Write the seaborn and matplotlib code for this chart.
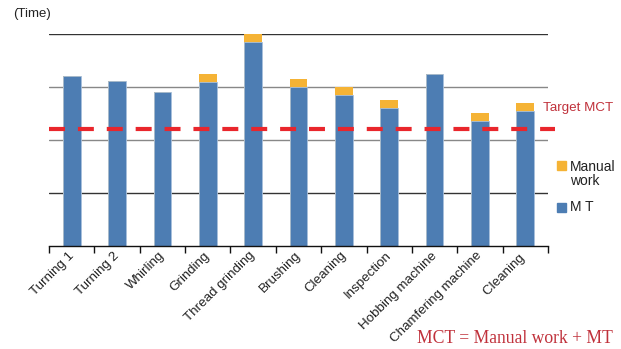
import matplotlib
matplotlib.use("Agg")
import matplotlib.pyplot as plt
import matplotlib.transforms as mtransforms
import seaborn as sns
import pandas as pd
import numpy as np

# Process steps and their times
processes = ["Turning 1", "Turning 2", "Whirling", "Grinding", "Thread grinding",
             "Brushing", "Cleaning", "Inspection", "Hobbing machine",
             "Chamfering machine", "Cleaning "]
machine_time = [3.20, 3.11, 2.90, 3.10, 3.85, 3.00, 2.85, 2.60, 3.25, 2.35, 2.55]
manual_work = [0.0, 0.0, 0.0, 0.15, 0.15, 0.15, 0.15, 0.15, 0.0, 0.15, 0.15]
target_mct = 2.2

sns.set_theme(style="white")
plt.rcParams["font.family"] = ["Liberation Sans Narrow", "Liberation Sans", "DejaVu Sans"]
plt.rcParams["lines.scale_dashes"] = False

BLUE = "#4d7db3"
ORANGE = "#f5b335"
RED_LINE = "#e9262c"
RED_TEXT = "#c0313b"
TEXT = "#222222"

df = pd.DataFrame({
    "process": processes,
    "mt": machine_time,
    "total": np.array(machine_time) + np.array(manual_work),
})

fig = plt.figure(figsize=(6.21, 3.49), dpi=100)
ax = fig.add_axes([49 / 621, 1 - 245.7 / 349, 499 / 621, 211.7 / 349])

# horizontal guide lines
for y, c in zip([1, 2, 3, 4], ["#333333", "#888888", "#888888", "#333333"]):
    ax.axhline(y, color=c, lw=1.0, zorder=0)

# stacked bars: total (manual on top) then machine time
sns.barplot(data=df, x="process", y="total", color=ORANGE, width=0.39,
            saturation=1, ax=ax, zorder=2, linewidth=0)
sns.barplot(data=df, x="process", y="mt", color=BLUE, width=0.39,
            saturation=1, ax=ax, zorder=3, edgecolor="#a8c0dc", linewidth=0.6)

ax.set_xlim(-0.5, len(processes) - 0.5)
ax.set_ylim(0, 4)
ax.set_xlabel("")
ax.set_ylabel("")
ax.set_yticks([])

for s in ["left", "right", "top"]:
    ax.spines[s].set_visible(False)
ax.spines["bottom"].set_color("#111111")
ax.spines["bottom"].set_linewidth(1.0)
ax.spines["bottom"].set_zorder(4)

# labels at category centres, tick marks at category boundaries
ax.set_xticks(range(len(processes)))
ax.set_xticklabels(processes, rotation=45, ha="right", va="top",
                   rotation_mode="anchor", fontsize=9.6, color=TEXT)
ax.tick_params(axis="x", which="major", length=0, pad=5)
ax.set_xticks(np.arange(-0.5, len(processes)), minor=True)
ax.tick_params(axis="x", which="minor", length=5, width=1.0, color="#111111",
               direction="out", bottom=True)
shift = mtransforms.ScaledTranslation(-4 / 100, 3 / 100, fig.dpi_scale_trans)
for lbl in ax.get_xticklabels():
    lbl.set_transform(lbl.get_transform() + shift)

# target line
ax.plot([-0.5, 10.65], [target_mct, target_mct], color=RED_LINE, lw=3.0,
        dashes=(11.5, 9.3), clip_on=False, zorder=5, solid_capstyle="butt",
        dash_capstyle="butt")
fig.text(543 / 621, 1 - 108 / 349, "Target MCT", color=RED_TEXT,
         fontsize=9.6, va="center", ha="left")

# legend
fig.patches.append(plt.Rectangle((557 / 621, 1 - 170 / 349), 9 / 621, 9 / 349,
                                 transform=fig.transFigure, color=ORANGE))
fig.patches.append(plt.Rectangle((557 / 621, 1 - 212 / 349), 9 / 621, 9 / 349,
                                 transform=fig.transFigure, color=BLUE))
fig.text(570 / 621, 1 - 174 / 349, "Manual\nwork", color=TEXT, fontsize=10,
         va="center", ha="left", linespacing=1.05)
fig.text(570 / 621, 1 - 207 / 349, "M T", color=TEXT, fontsize=10,
         va="center", ha="left")

fig.text(13 / 621, 1 - 14 / 349, "(Time)", color=TEXT, fontsize=9.5,
         va="center", ha="left")
fig.text(613 / 621, 1 - 338.5 / 349, "MCT = Manual work + MT", color=RED_TEXT,
         fontsize=12.7, va="center", ha="right",
         family=["Liberation Serif", "DejaVu Serif"])

fig.savefig("out.png", dpi=100)
